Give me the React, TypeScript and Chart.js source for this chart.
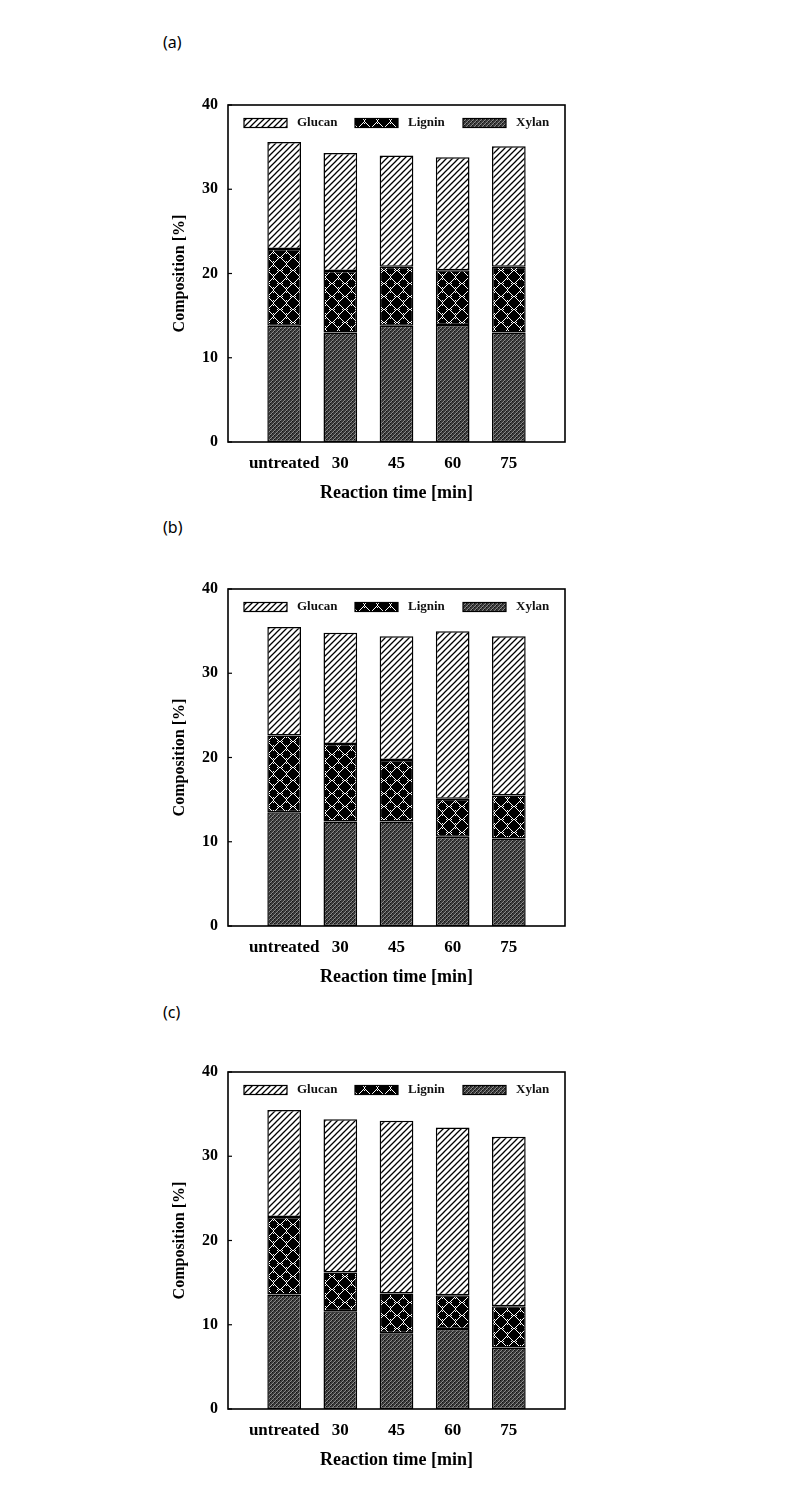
import React, { useEffect, useRef } from 'react';
import { Chart, registerables } from 'chart.js';

Chart.register(...registerables);

// ---------- data ----------
const categories = ['untreated', '30', '45', '60', '75'];
const seriesNames = ['Xylan', 'Lignin', 'Glucan'];
const panelNames = ['(a)', '(b)', '(c)'];
const yTickValues = [0, 10, 20, 30, 40];
const xTitleText = 'Reaction time [min]';
const yTitleText = 'Composition [%]';

const xylanA = [13.8, 13.0, 13.8, 13.9, 13.0];
const ligninA = [9.1, 7.3, 7.0, 6.5, 7.8];
const glucanA = [12.7, 14.0, 13.2, 13.4, 14.3];

const xylanB = [13.5, 12.4, 12.4, 10.6, 10.4];
const ligninB = [9.1, 9.2, 7.3, 4.5, 5.1];
const glucanB = [12.9, 13.2, 14.7, 19.9, 18.9];

const xylanC = [13.6, 11.6, 9.0, 9.5, 7.3];
const ligninC = [9.2, 4.6, 4.7, 4.0, 4.9];
const glucanC = [12.7, 18.2, 20.5, 19.9, 20.1];

// ---------- layout (page coordinates) ----------
const SERIF = "'Liberation Serif', 'Times New Roman', serif";
const CANVAS_LEFT = 150;
const CANVAS_W = 430;
const PAD_TOP = 10;
const PLOT_H = 337;
const X_AXIS_H = 70;
const Y_AXIS_W = 78;
const PAD_RIGHT = 15;
const CANVAS_H = PAD_TOP + PLOT_H + X_AXIS_H;

const panels = [
  { name: panelNames[0], series: [xylanA, ligninA, glucanA], plotTop: 105, labelY: 42 },
  { name: panelNames[1], series: [xylanB, ligninB, glucanB], plotTop: 589, labelY: 527 },
  { name: panelNames[2], series: [xylanC, ligninC, glucanC], plotTop: 1072, labelY: 1012 },
];

// ---------- patterns ----------
function makePattern(kind: string): CanvasPattern | string {
  const c = document.createElement('canvas');
  const ctx = c.getContext('2d');
  if (!ctx) return '#888';
  if (kind === 'Glucan') {
    const s = 6;
    c.width = s; c.height = s;
    ctx.fillStyle = '#ffffff';
    ctx.fillRect(0, 0, s, s);
    ctx.strokeStyle = '#000000';
    ctx.lineWidth = 1.3;
    ctx.beginPath();
    ctx.moveTo(-1, s + 1); ctx.lineTo(s + 1, -1);
    ctx.moveTo(-1, 1); ctx.lineTo(1, -1);
    ctx.moveTo(s - 1, s + 1); ctx.lineTo(s + 1, s - 1);
    ctx.stroke();
  } else if (kind === 'Lignin') {
    const s = 13;
    c.width = s; c.height = s;
    ctx.fillStyle = '#000000';
    ctx.fillRect(0, 0, s, s);
    const cx = s / 2, cy = s / 2;
    ctx.fillStyle = '#ffffff';
    for (let y = 0; y < s; y++) {
      for (let x = 0; x < s; x++) {
        const d = Math.hypot(x + 0.5 - cx, y + 0.5 - cy);
        const ring = d > 3.2 && d < 5.4;
        const hLine = Math.abs(y + 0.5 - cy) < 1 && (x < 2 || x > s - 3);
        const vLine = Math.abs(x + 0.5 - cx) < 1 && (y < 2 || y > s - 3);
        if ((ring || hLine || vLine) && (x + y) % 2 === 0) ctx.fillRect(x, y, 1, 1);
      }
    }
  } else {
    const s = 4;
    c.width = s; c.height = s;
    ctx.fillStyle = '#3a3a3a';
    ctx.fillRect(0, 0, s, s);
    ctx.strokeStyle = '#8a8a8a';
    ctx.lineWidth = 1;
    ctx.beginPath();
    ctx.moveTo(-1, s + 1); ctx.lineTo(s + 1, -1);
    ctx.moveTo(-1, 1); ctx.lineTo(1, -1);
    ctx.moveTo(s - 1, s + 1); ctx.lineTo(s + 1, s - 1);
    ctx.stroke();
    ctx.fillStyle = '#111111';
    ctx.fillRect(0, 0, 1, 1);
    ctx.fillRect(2, 2, 1, 1);
  }
  const p = ctx.createPattern(c, 'repeat');
  return p || '#888';
}

// ---------- plugin: frame, inner ticks, in-plot legend ----------
const framePlugin = {
  id: 'frameAndLegend',
  afterDraw(chart: any) {
    const { ctx, chartArea } = chart;
    const { left, right, top, bottom } = chartArea;
    ctx.save();
    const ys = chart.scales.y;
    ctx.strokeStyle = '#000';
    ctx.lineWidth = 1.2;
    ys.ticks.forEach((t: any) => {
      const py = ys.getPixelForValue(t.value);
      ctx.beginPath();
      ctx.moveTo(left, py);
      ctx.lineTo(left + 4, py);
      ctx.stroke();
    });
    ctx.lineWidth = 1.6;
    ctx.strokeRect(left, top, right - left, bottom - top);

    const ds = chart.data.datasets.slice().reverse();
    const swatchX = [16, 127, 235];
    const boxW = 43, boxH = 9;
    const cy = top + 18;
    ctx.font = `bold 13px ${SERIF}`;
    ctx.textBaseline = 'middle';
    ctx.textAlign = 'left';
    ds.forEach((d: any, i: number) => {
      const x = left + swatchX[i];
      ctx.fillStyle = d.backgroundColor;
      ctx.fillRect(x, cy - boxH / 2, boxW, boxH);
      ctx.lineWidth = 1.2;
      ctx.strokeStyle = '#000';
      ctx.strokeRect(x, cy - boxH / 2, boxW, boxH);
      ctx.fillStyle = '#111';
      ctx.fillText(d.label, x + boxW + 10, cy);
    });
    ctx.restore();
  },
};

function Panel({ panel }: { panel: any }) {
  const ref = useRef<HTMLCanvasElement | null>(null);
  useEffect(() => {
    if (!ref.current) return;
    const labels = ['', ...categories, ''];
    const datasets = seriesNames.map((name, i) => ({
      label: name,
      data: [null, ...panel.series[i], null],
      backgroundColor: makePattern(name),
      borderColor: '#000000',
      borderWidth: 1.5,
      borderSkipped: false,
      barPercentage: 0.6,
      categoryPercentage: 1,
    }));
    const chart = new Chart(ref.current, {
      type: 'bar',
      data: { labels, datasets: datasets as any },
      options: {
        animation: false,
        responsive: false,
        maintainAspectRatio: false,
        layout: { padding: { top: PAD_TOP, right: PAD_RIGHT, left: 0, bottom: 0 } },
        plugins: { legend: { display: false }, tooltip: { enabled: false } },
        scales: {
          x: {
            stacked: true,
            offset: false,
            grid: { display: false, offset: false, drawTicks: false },
            border: { display: false },
            ticks: {
              autoSkip: false,
              maxRotation: 0,
              padding: 11,
              color: '#000',
              font: { family: SERIF, size: 17, weight: 'bold' },
            },
            title: {
              display: true,
              text: xTitleText,
              color: '#000',
              font: { family: SERIF, size: 18, weight: 'bold' },
              padding: { top: 0, bottom: 8 },
            },
            afterFit: (s: any) => {
              s.height = X_AXIS_H;
              s.paddingLeft = 0;
              s.paddingRight = 0;
            },
          },
          y: {
            stacked: true,
            min: yTickValues[0],
            max: yTickValues[yTickValues.length - 1],
            grid: { display: false, drawTicks: false },
            border: { display: false },
            afterBuildTicks: (s: any) => { s.ticks = yTickValues.map((v) => ({ value: v })); },
            ticks: {
              padding: 10,
              color: '#000',
              font: { family: SERIF, size: 16, weight: 'bold' },
            },
            title: {
              display: true,
              text: yTitleText,
              color: '#000',
              font: { family: SERIF, size: 16, weight: 'bold' },
              padding: { top: 20, bottom: 0 },
            },
            afterFit: (s: any) => {
              s.width = Y_AXIS_W;
              s.paddingTop = 0;
              s.paddingBottom = 0;
            },
          },
        },
      } as any,
      plugins: [framePlugin],
    });
    return () => chart.destroy();
  }, [panel]);

  return (
    <>
      <div
        style={{
          position: 'absolute',
          left: 163,
          top: panel.labelY - 11,
          height: 22,
          lineHeight: '22px',
          fontSize: 16,
          fontFamily: "'Noto Sans', 'Open Sans', sans-serif",
          color: '#000',
        }}
      >
        {panel.name}
      </div>
      <canvas
        ref={ref}
        width={CANVAS_W}
        height={CANVAS_H}
        style={{
          position: 'absolute',
          left: CANVAS_LEFT,
          top: panel.plotTop - PAD_TOP,
          width: CANVAS_W,
          height: CANVAS_H,
        }}
      />
    </>
  );
}

export default function App() {
  return (
    <div style={{ position: 'absolute', left: 0, top: 0, width: 802, height: 1485, background: '#fff' }}>
      {panels.map((p) => (
        <Panel key={p.name} panel={p} />
      ))}
    </div>
  );
}
